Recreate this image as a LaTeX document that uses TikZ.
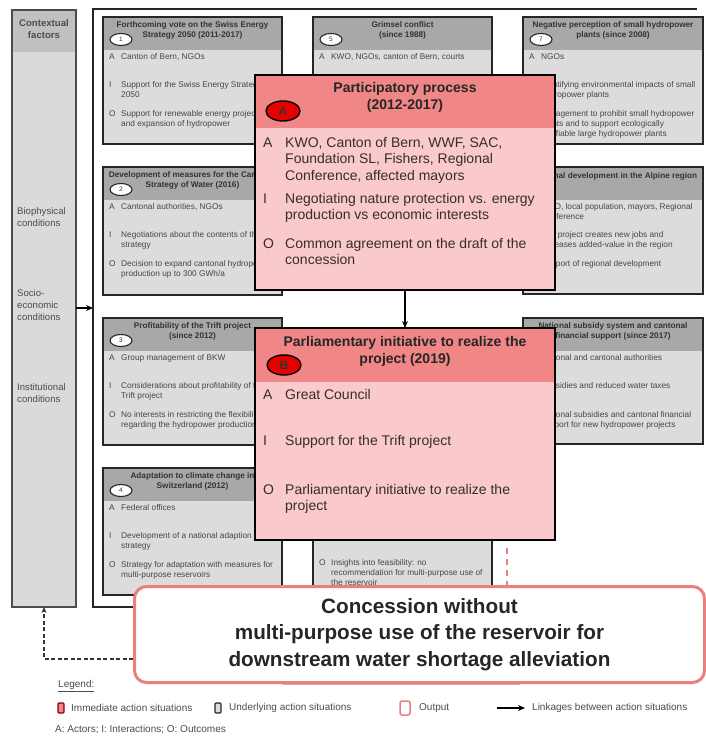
\documentclass[tikz,border=0pt]{standalone}
\usepackage{fontspec}
\setmainfont{Liberation Sans}
\usetikzlibrary{arrows.meta,calc,shapes.geometric}
\definecolor{gbody}{RGB}{220,220,220}
\definecolor{ghead}{RGB}{168,168,168}
\definecolor{rhead}{RGB}{240,134,134}
\definecolor{rbody}{RGB}{249,201,203}
\definecolor{circred}{RGB}{230,0,0}
\definecolor{outpink}{RGB}{232,128,128}
\definecolor{gtext}{RGB}{70,70,70}
\definecolor{rtext}{RGB}{55,45,45}
\definecolor{ctxfill}{RGB}{218,218,218}
\definecolor{ctxhead}{RGB}{192,192,192}
\tikzset{
  gboxnode/.style={fill=gbody, inner sep=0pt, outer sep=0pt},
  gline/.style={draw=black!85, line width=1.8pt},
  gtxt/.style={font=\fontsize{8.3}{10}\selectfont, text=gtext, inner sep=0pt},
  ghtxt/.style={font=\bfseries\fontsize{8.2}{10}\selectfont, text=black!80, inner sep=0pt, align=center},
  gnum/.style={ellipse, draw=black!85, fill=white, line width=1.1pt, minimum width=22, minimum height=12, inner sep=0pt, font=\fontsize{6.5}{7}\selectfont, text=black!80},
  rbox/.style={fill=rbody, inner sep=0pt, outer sep=0pt},
  rline/.style={draw=black, line width=2.4pt},
  rtxt/.style={font=\fontsize{14}{16.5}\selectfont, text=rtext, inner sep=0pt},
  rhtxt/.style={font=\bfseries\fontsize{14}{17.5}\selectfont, text=black!85, inner sep=0pt, align=center},
  rnum/.style={ellipse, draw=black, fill=circred, line width=1.4pt, minimum width=34, minimum height=20, inner sep=0pt, font=\bfseries\fontsize{12}{13}\selectfont, text=black!80},
  ctxtxt/.style={font=\fontsize{9.6}{12.3}\selectfont, text=black!70, inner sep=0pt, align=left},
  legtxt/.style={font=\fontsize{10}{11}\selectfont, text=black!70, inner sep=0pt},
  linkarrow/.style={-{Stealth[length=7pt,width=6pt]}, line width=1.4pt, draw=black},
}
\newcommand{\rsGframe}[5]{%
  \node[gboxnode, minimum width=#4, minimum height=#5, anchor=north west] (#1) at (#2,#3) {};
  \fill[ghead] (#1.north west) rectangle ($(#1.north east)+(0,33)$);
  \draw[gline] (#1.north west) rectangle (#1.south east);
}
\newcommand{\rsGitem}[4]{%
  \node[gtxt, anchor=north west] at (#1,{#2-4.1}) {\strut #3};
  \node[gtxt, anchor=north west, align=left] at ({#1+12},{#2-4.1}) {\strut #4};
}
\newcommand{\rsRitem}[4]{%
  \node[rtxt, anchor=north west] at (#1,{#2-6.5}) {\strut #3};
  \node[rtxt, anchor=north west, align=left] at ({#1+22},{#2-6.5}) {\strut #4};
}
\begin{document}
\begin{tikzpicture}[x=1pt,y=-1pt]
\useasboundingbox (0,0) rectangle (706,742);
\fill[white] (0,0) rectangle (706,742);

% contextual factors column
\node[fill=ctxfill, inner sep=0pt, outer sep=0pt, minimum width=64, minimum height=597, anchor=north west] (ctx) at (12,10) {};
\fill[ctxhead] (ctx.north west) rectangle ($(ctx.north east)+(0,42)$);
\draw[draw=black!70, line width=1.5pt] (ctx.north west) rectangle (ctx.south east);
\node[ctxtxt, align=center, font=\bfseries\fontsize{9.6}{12}\selectfont, anchor=north] at (44,17.5) {\strut Contextual\\factors};
\node[ctxtxt, anchor=north west] at (17,205.5) {\strut Biophysical\\conditions};
\node[ctxtxt, anchor=north west] at (17,287.5) {\strut Socio-\\economic\\conditions};
\node[ctxtxt, anchor=north west] at (17,381.5) {\strut Institutional\\conditions};

% outer frame
\draw[draw=black!85, line width=2pt] (697,9) -- (93,9) -- (93,607) -- (140,607);
\coordinate (fin) at (93,308);
\draw[linkarrow] (ctx.east |- fin) -- (fin);

% column 1
\rsGframe{b1}{103}{17}{179}{127}
\node[ghtxt, anchor=north] at (192.5,20.4) {\strut Forthcoming vote on the Swiss Energy\\Strategy 2050 (2011-2017)};
\node[gnum] (n1) at (121,39.5) {1};
\rsGitem{109}{56.5}{A}{Canton of Bern, NGOs}
\rsGitem{109}{84}{I}{Support for the Swiss Energy Strategy\\2050}
\rsGitem{109}{113.5}{O}{Support for renewable energy projects\\and expansion of hydropower}

\rsGframe{b2}{103}{167}{179}{128}
\node[ghtxt, anchor=north] at (192.5,170.4) {\strut Development of measures for the Cantonal\\Strategy of Water (2016)};
\node[gnum] (n2) at (121,189.5) {2};
\rsGitem{109}{206.5}{A}{Cantonal authorities, NGOs}
\rsGitem{109}{234}{I}{Negotiations about the contents of the\\strategy}
\rsGitem{109}{263.5}{O}{Decision to expand cantonal hydropower\\production up to 300 GWh/a}

\rsGframe{b3}{103}{318}{179}{127}
\node[ghtxt, anchor=north] at (192.5,321.4) {\strut Profitability of the Trift project\\(since 2012)};
\node[gnum] (n3) at (121,340.5) {3};
\rsGitem{109}{357.5}{A}{Group management of BKW}
\rsGitem{109}{385}{I}{Considerations about profitability of the\\Trift project}
\rsGitem{109}{414.5}{O}{No interests in restricting the flexibility\\regarding the hydropower production}

\rsGframe{b4}{103}{468}{179}{127}
\node[ghtxt, anchor=north] at (192.5,471.4) {\strut Adaptation to climate change in\\Switzerland (2012)};
\node[gnum] (n4) at (121,490.5) {4};
\rsGitem{109}{507.5}{A}{Federal offices}
\rsGitem{109}{535}{I}{Development of a national adaption\\strategy}
\rsGitem{109}{564.5}{O}{Strategy for adaptation with measures for\\multi-purpose reservoirs}

% column 2
\rsGframe{b5}{313}{17}{179}{127}
\node[ghtxt, anchor=north] at (402.5,20.4) {\strut Grimsel conflict\\(since 1988)};
\node[gnum] (n5) at (331,39.5) {5};
\rsGitem{319}{56.5}{A}{KWO, NGOs, canton of Bern, courts}

\rsGframe{b6}{313}{468}{179}{127}
\rsGitem{319}{562.5}{O}{Insights into feasibility: no\\recommendation for multi-purpose use of\\the reservoir}

% column 3
\rsGframe{b7}{523}{17}{180}{127}
\node[ghtxt, anchor=north] at (613,20.4) {\strut Negative perception of small hydropower\\plants (since 2008)};
\node[gnum] (n7) at (541,39.5) {7};
\rsGitem{529}{56.5}{A}{NGOs}
\rsGitem{529}{84}{I}{Identifying environmental impacts of small\\hydropower plants}
\rsGitem{529}{113.5}{O}{Engagement to prohibit small hydropower\\plants and to support ecologically\\justifiable large hydropower plants}

\rsGframe{b8}{523}{167}{180}{127}
\node[ghtxt, anchor=north] at (614,170.9) {\strut Regional development in the Alpine region};
\rsGitem{529}{206.5}{A}{KWO, local population, mayors, Regional\\Conference}
\rsGitem{529}{234}{I}{The project creates new jobs and\\increases added-value in the region}
\rsGitem{529}{263.5}{O}{Support of regional development}

\rsGframe{b9}{523}{318}{180}{126}
\node[ghtxt, anchor=north] at (613,321.4) {\strut National subsidy system and cantonal\\financial support (since 2017)};
\rsGitem{529}{357.5}{A}{National and cantonal authorities}
\rsGitem{529}{385}{I}{Subsidies and reduced water taxes}
\rsGitem{529}{414.5}{O}{National subsidies and cantonal financial\\support for new hydropower projects}

% immediate action situation A
\node[rbox, minimum width=300, minimum height=215, anchor=north west] (pa) at (255,75) {};
\fill[rhead] (pa.north west) rectangle ($(pa.north east)+(0,53)$);
\draw[rline] (pa.north west) rectangle (pa.south east);
\node[rhtxt, anchor=north] at (405,79.7) {\strut Participatory process\\(2012-2017)};
\node[rnum] (ca) at (283,111) {A};
\rsRitem{263}{142}{A}{KWO, Canton of Bern, WWF, SAC,\\Foundation SL, Fishers, Regional\\Conference, affected mayors}
\rsRitem{263}{198}{I}{Negotiating nature protection vs. energy\\production vs economic interests}
\rsRitem{263}{243}{O}{Common agreement on the draft of the\\concession}

% immediate action situation B
\node[rbox, minimum width=300, minimum height=212, anchor=north west] (pb) at (255,328) {};
\fill[rhead] (pb.north west) rectangle ($(pb.north east)+(0,54)$);
\draw[rline] (pb.north west) rectangle (pb.south east);
\node[rhtxt, anchor=north] at (405,333.7) {\strut Parliamentary initiative to realize the\\project (2019)};
\node[rnum] (cb) at (284,365) {B};
\rsRitem{263}{394}{A}{Great Council}
\rsRitem{263}{440}{I}{Support for the Trift project}
\rsRitem{263}{489}{O}{Parliamentary initiative to realize the\\project}

\draw[linkarrow] (pa.south) -- (pb.north);

% output
\draw[outpink!70, line width=2pt] (283,684) -- (520,684);
\node[draw=outpink, line width=3pt, rounded corners=12pt, fill=white, minimum width=570, minimum height=96, anchor=north west, align=center,
      font=\bfseries\fontsize{20.7}{26.5}\selectfont, text=black!85] (conc) at (133,585)
      {Concession without\\multi-purpose use of the reservoir for\\downstream water shortage alleviation};
\coordinate (rd) at (507,548);
\draw[draw=outpink, line width=1.6pt, dash pattern=on 6pt off 5pt] (rd) -- (rd |- conc.north);
\coordinate (dl) at (133,659);
\draw[draw=black!80, line width=1.3pt, dash pattern=on 4pt off 2.5pt, -{Stealth[length=6pt,width=5pt]}] (dl) -| (ctx.south);

% legend
\node[legtxt, anchor=west] (lgt) at (58,686) {\underline{Legend:}};
\node[draw=red!55!black, fill=rhead, line width=1.1pt, minimum width=6, minimum height=10, inner sep=0pt, rounded corners=1pt] (lg1) at (61,708) {};
\node[legtxt, anchor=west] (lg1t) at (71,708) {Immediate action situations};
\node[draw=black!85, fill=gbody, line width=1.1pt, minimum width=6, minimum height=10, inner sep=0pt, rounded corners=1pt] (lg2) at (218,708) {};
\node[legtxt, anchor=west] (lg2t) at (229,708) {Underlying action situations};
\node[draw=outpink, fill=white, line width=1.5pt, minimum width=10, minimum height=14, inner sep=0pt, rounded corners=2pt] (lg3) at (405,708) {};
\node[legtxt, anchor=west] (lg3t) at (419,708) {Output};
\coordinate (lga) at (497,708);
\coordinate (lgb) at (525,708);
\draw[linkarrow, line width=1.3pt] (lga) -- (lgb);
\node[legtxt, anchor=west] (lg4t) at (532,708) {Linkages between action situations};
\node[legtxt, anchor=west] (lgn) at (55,730) {A: Actors; I: Interactions; O: Outcomes};
\end{tikzpicture}
\end{document}
